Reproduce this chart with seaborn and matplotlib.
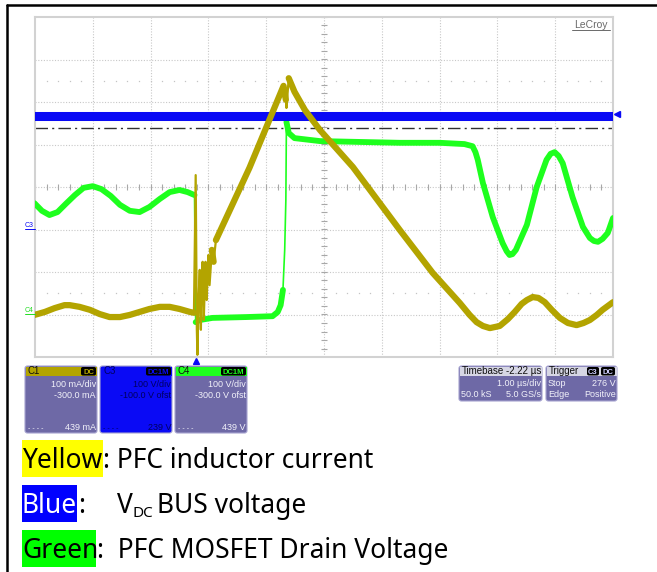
# scope capture: PFC inductor current, bus voltage and MOSFET drain voltage
import numpy as np
import pandas as pd
import matplotlib
matplotlib.use('Agg')
import matplotlib.pyplot as plt
from matplotlib.patches import Rectangle, FancyBboxPatch
from matplotlib.lines import Line2D
import seaborn as sns

sns.set_theme(style='white')
plt.rcParams['font.family'] = ['Liberation Sans', 'DejaVu Sans']

# scope settings
timebase_delay = -2.22          # us
c1_scale, c1_offset = 100, -300  # mA/div, mA
c3_scale, c3_offset = 100, -100  # V/div, V
c4_scale, c4_offset = 100, -300  # V/div, V
cursor_mA = 439
trigger_level = 276

# C1 - PFC inductor current (mA), time in us from trigger
il_t = [-2.79, -2.61, -2.44, -2.27, -2.18, -2.01, -1.83, -1.66, -1.49, -1.31,
        -1.14, -0.97, -0.80, -0.62, -0.45, -0.28, -0.10, -0.03,
        0.00, 0.02, 0.03, 0.05, 0.07, 0.09, 0.10, 0.12, 0.14, 0.16, 0.17, 0.19,
        0.21, 0.22, 0.24, 0.28, 0.31, 0.35,
        0.93, 1.52, 1.56, 1.57, 1.61, 1.71, 1.89, 2.15, 2.72, 3.53, 4.10, 4.57,
        4.74, 4.86, 4.97, 5.09, 5.26, 5.40, 5.52, 5.64, 5.73, 5.83, 5.93, 6.04,
        6.16, 6.30, 6.44, 6.59, 6.71, 6.82, 6.94, 7.04, 7.13, 7.22]
il_mA = [-1, 6, 15, 22, 22, 18, 11, 1, -6, -6,
         -1, 6, 13, 18, 18, 13, 6, 4,
         328, -36, -95, 34, 105, -36, 58, 124, -13, 81, 124, 34,
         105, 140, 69, 152, 124, 175,
         345, 538, 505, 486, 556, 524, 481, 434, 347, 199, 98, 27,
         -1, -18, -27, -32, -27, -11, 6, 25, 34, 41, 39, 29,
         11, -8, -20, -25, -20, -13, -1, 11, 20, 29]

# C4 - MOSFET drain voltage (V)
vd_t = [-2.79, -2.66, -2.53, -2.39, -2.25, -2.09, -1.94, -1.78, -1.63, -1.47,
        -1.31, -1.14, -0.97, -0.80, -0.62, -0.45, -0.28, -0.14, -0.02,
        0.00, 0.07, 0.29, 0.88, 1.33, 1.42, 1.47, 1.51, 1.54, 1.56, 1.57,
        1.61, 1.71, 2.15, 2.84, 3.53, 4.22, 4.65, 4.79, 4.84, 4.88, 4.97, 5.14,
        5.31, 5.38, 5.43, 5.48, 5.54, 5.73, 5.90, 6.07, 6.14, 6.21, 6.28, 6.35,
        6.52, 6.70, 6.82, 6.89, 6.96, 7.04, 7.13, 7.22]
vd_V = [262, 244, 234, 241, 260, 281, 298, 302, 295, 279,
        258, 244, 241, 253, 272, 288, 293, 288, 281,
        -18, -13, -8, -6, -4, 6, 22, 58, 152, 269, 453,
        427, 415, 408, 406, 404, 404, 401, 396, 382, 364, 309, 229,
        168, 149, 140, 142, 152, 211, 300, 364, 378, 382, 373, 356,
        276, 206, 180, 173, 171, 178, 192, 227]

# C3 - DC bus voltage (V)
vbus_t = [-2.79, 7.22]
vbus_V = [267, 267]


def split_fast(t, d, limit):
    # separate the fast edges (drawn thin) from the slow parts (thick band)
    rows = []
    seg = 0
    prev = None
    for i in range(len(t) - 1):
        fast = abs(d[i + 1] - d[i]) / max(t[i + 1] - t[i], 1e-6) > limit
        if fast != prev:
            seg += 1
            prev = fast
        rows.append((seg, fast, t[i], d[i]))
        rows.append((seg, fast, t[i + 1], d[i + 1]))
    df = pd.DataFrame(rows, columns=['seg', 'fast', 't', 'div'])
    return df.drop_duplicates(subset=['seg', 't', 'div'])


W, H = 657, 572
def fx(px):
    return px / W
def fy(py):
    return 1 - py / H

fig = plt.figure(figsize=(W / 100, H / 100), dpi=100)
fig.patch.set_facecolor('white')

# scope screen
ax = fig.add_axes([fx(35), fy(357), fx(613) - fx(35), fy(17) - fy(357)])
center = -timebase_delay
ax.set_xlim(center - 5, center + 5)
ax.set_ylim(-4, 4)
ax.set_xticks([])
ax.set_yticks([])
for s in ax.spines.values():
    s.set_color('#d2d2d2')
    s.set_linewidth(1.5)

grid_kw = dict(color='#c8c8c8', lw=0.8, ls=(0, (1, 1.5)), zorder=1)
for k in range(1, 10):
    ax.axvline(center - 5 + k, **grid_kw)
for k in range(-3, 4):
    ax.axhline(k, **grid_kw)

# minor ticks on the centre lines
yt = np.arange(-4, 4.01, 0.2)
xt = np.arange(center - 5, center + 5.01, 0.2)
ax.plot([center] * len(yt), yt, ls='none', marker='_', ms=5, mew=0.8, color='#a8a8a8', zorder=1)
ax.plot(xt, [0] * len(xt), ls='none', marker='|', ms=5, mew=0.8, color='#a8a8a8', zorder=1)
for lvl in (2.5, -2.5):
    ax.plot(xt[1:-1], [lvl] * (len(xt) - 2), ls='none', marker='s', ms=0.9, mew=0,
            color='#c4c4c4', zorder=1)

# horizontal cursor
cursor_div = (cursor_mA + c1_offset) / c1_scale
ax.axhline(cursor_div, color='#303030', lw=1.0, ls=(0, (9, 3, 1.5, 3)), zorder=2)

yellow = '#b3a400'
green = '#1eff1e'
blue = '#0a0af5'

# C4 green
vd_div = [(v + c4_offset) / c4_scale for v in vd_V]
df_vd = split_fast(vd_t, vd_div, 12)
sns.lineplot(data=df_vd[~df_vd['fast']], x='t', y='div', units='seg', estimator=None, sort=False,
             color=green, lw=4.2, ax=ax, solid_joinstyle='round', solid_capstyle='round', zorder=3)
sns.lineplot(data=df_vd[df_vd['fast']], x='t', y='div', units='seg', estimator=None, sort=False,
             color=green, lw=1.2, ax=ax, zorder=3)

# C3 blue
vbus_div = [(v + c3_offset) / c3_scale for v in vbus_V]
sns.lineplot(x=vbus_t, y=vbus_div, color=blue, lw=6.5, ax=ax, zorder=4)

# C1 yellow
il_div = [(v + c1_offset) / c1_scale for v in il_mA]
df_il = split_fast(il_t, il_div, 12)
sns.lineplot(data=df_il[~df_il['fast']], x='t', y='div', units='seg', estimator=None, sort=False,
             color=yellow, lw=4.5, ax=ax, solid_joinstyle='round', solid_capstyle='round', zorder=5)
sns.lineplot(data=df_il[df_il['fast']], x='t', y='div', units='seg', estimator=None, sort=False,
             color=yellow, lw=1.6, ax=ax, zorder=5)
ax.set_xlabel('')
ax.set_ylabel('')

# markers: trigger position and bus level arrow
ax.plot(0, -4.1, marker='^', ms=5, color=blue, clip_on=False, zorder=6)
ax.plot(center + 5.07, vbus_div[0] + 0.04, marker='<', ms=5, color=blue, clip_on=False, zorder=6)

# channel ground labels
for lab, lvl, col in [('C3', c3_offset / c3_scale, blue), ('C4', c4_offset / c4_scale, '#22dd22')]:
    py = 187 - 42.5 * lvl
    fig.text(fx(25), fy(py - 3), lab, fontsize=5, color=col, ha='left', va='baseline')
    fig.add_artist(Line2D([fx(25), fx(35)], [fy(py - 1), fy(py - 1)], color=col, lw=0.7))

# LeCroy logo
fig.text(fx(591), fy(28), 'LeCroy', fontsize=7.5, color='#6a6a6a', ha='center', va='baseline')
fig.add_artist(Line2D([fx(572), fx(610)], [fy(30), fy(30)], color='#6a6a6a', lw=0.7))

# page borders
fig.add_artist(Line2D([fx(7), fx(7)], [fy(5), fy(572)], color='black', lw=1.8))
fig.add_artist(Line2D([fx(7), fx(657)], [fy(5), fy(5)], color='black', lw=1.8))

# info boxes
body = '#6e69a6'
edge = '#a6a3d0'
txt = '#f2f2fa'


def box(x0, y0, x1, y1, fc):
    fig.add_artist(FancyBboxPatch((fx(x0), fy(y1)), fx(x1) - fx(x0), fy(y0) - fy(y1),
                                  boxstyle='round,pad=0,rounding_size=0.004',
                                  transform=fig.transFigure, fc=fc, ec=edge, lw=0.8))


def band(x0, y0, x1, y1, fc):
    fig.add_artist(Rectangle((fx(x0), fy(y1)), fx(x1) - fx(x0), fy(y0) - fy(y1),
                             transform=fig.transFigure, fc=fc, ec='none'))


def badge(x0, x1, y0, y1, s, col):
    fig.add_artist(FancyBboxPatch((fx(x0), fy(y1)), fx(x1) - fx(x0), fy(y0) - fy(y1),
                                  boxstyle='round,pad=0,rounding_size=0.003',
                                  transform=fig.transFigure, fc='black', ec='none'))
    fig.text(fx((x0 + x1) / 2), fy(y1 - 1.5), s, fontsize=5.5, color=col, ha='center',
             va='baseline', fontweight='bold')


def put(x, y, s, col, ha='right', size=6.5):
    fig.text(fx(x), fy(y), s, fontsize=size, color=col, ha=ha, va='baseline')


channels = [
    (25, 97, 'C1', 'DC', yellow, body, txt, '100 mA/div', '-300.0 mA', '439 mA'),
    (100, 172, 'C3', 'DC1M', blue, blue, '#000060', '100 V/div', '-100.0 V ofst', '239 V'),
    (175, 247, 'C4', 'DC1M', green, body, txt, '100 V/div', '-300.0 V ofst', '439 V'),
]
for x0, x1, name, cpl, hc, bc, tc, scl, ofs, cur in channels:
    box(x0, 366, x1, 433, bc)
    band(x0 + 0.5, 366.5, x1 - 0.5, 376, hc)
    put(x0 + 3, 374, name, '#101010' if hc != blue else '#000060', ha='left', size=7)
    badge(x1 - (16 if cpl == 'DC' else 26), x1 - 1, 367, 375.5, cpl, hc)
    put(x1 - 1, 387, scl, tc)
    put(x1 - 1, 397.5, ofs, tc)
    put(x0 + 3, 430, '- - - -', tc, ha='left', size=5)
    put(x1 - 1, 430, cur, tc)

# timebase box
box(459, 366, 542, 401, body)
band(459.5, 366.5, 541.5, 376, '#d6d6e4')
put(462, 374, 'Timebase', '#101010', ha='left', size=7)
put(541, 374, f'{timebase_delay:.2f} µs', '#101010', size=7)
put(541, 386, '1.00 µs/div', txt)
put(461, 397, '50.0 kS', txt, ha='left')
put(541, 397, '5.0 GS/s', txt)

# trigger box
box(546, 366, 617, 401, body)
band(546.5, 366.5, 616.5, 376, '#d6d6e4')
put(549, 374, 'Trigger', '#101010', ha='left', size=7)
badge(587, 599, 367, 375.5, 'C3', '#d0d0ff')
badge(601, 615, 367, 375.5, 'DC', '#d0d0ff')
put(548, 386, 'Stop', txt, ha='left')
put(616, 386, f'{trigger_level} V', txt)
put(548, 397, 'Edge', txt, ha='left')
put(616, 397, 'Positive', txt)

# legend text underneath
fs = 19
fam = ['Noto Sans', 'DejaVu Sans']
band(22, 440, 103, 477, '#ffff00')
band(22, 485, 77, 522, '#0000ff')
band(22, 530, 96, 567, '#00ff00')
fig.text(fx(22), fy(468), 'Yellow', fontsize=fs, family=fam, color='black', va='baseline')
fig.text(fx(103), fy(468), ': PFC inductor current', fontsize=fs, family=fam, color='black', va='baseline')
fig.text(fx(22), fy(513), 'Blue', fontsize=fs, family=fam, color='white', va='baseline')
fig.text(fx(78), fy(513), ':', fontsize=fs, family=fam, color='black', va='baseline')
fig.text(fx(117), fy(513), 'V', fontsize=fs, family=fam, color='black', va='baseline')
fig.text(fx(132), fy(517), 'DC', fontsize=11, family=fam, color='black', va='baseline')
fig.text(fx(157), fy(513), 'BUS voltage', fontsize=fs, family=fam, color='black', va='baseline')
fig.text(fx(22), fy(558), 'Green', fontsize=fs, family=fam, color='black', va='baseline')
fig.text(fx(97), fy(558), ':  PFC MOSFET Drain Voltage', fontsize=fs, family=fam, color='black',
         va='baseline')

fig.savefig('out.png', dpi=100, facecolor='white')
